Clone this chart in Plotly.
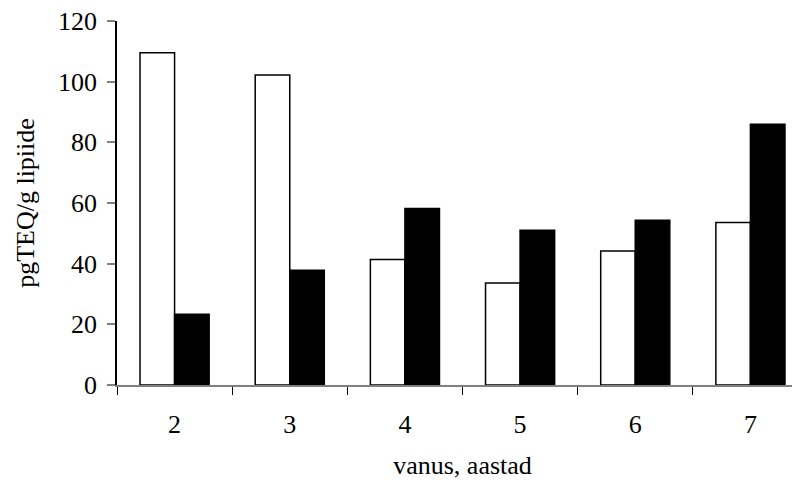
import plotly.graph_objects as go

categories = ["2", "3", "4", "5", "6", "7"]
series_white = [109.5, 102.2, 41.4, 33.6, 44.2, 53.6]
series_black = [23.3, 37.8, 58.2, 51.0, 54.3, 86.0]
y_ticks = [0, 20, 40, 60, 80, 100, 120]

FONT = "Liberation Serif, Times New Roman, serif"
FS = 26

fig = go.Figure()
fig.add_trace(go.Bar(x=categories, y=series_white, name="A",
                     marker=dict(color="white", line=dict(color="black", width=1.5))))
fig.add_trace(go.Bar(x=categories, y=series_black, name="B",
                     marker=dict(color="black", line=dict(color="black", width=1.5))))

fig.update_layout(
    width=800, height=491,
    margin=dict(l=109, r=0, t=13, b=114),
    plot_bgcolor="white", paper_bgcolor="white",
    barmode="group", bargap=0.4, bargroupgap=0,
    showlegend=False,
    font=dict(family=FONT, size=FS, color="black"),
)
fig.update_xaxes(
    type="category", automargin=False,
    showline=True, linecolor="#808080", linewidth=1.5,
    ticks="outside", tickson="boundaries", ticklen=8, tickcolor="black", tickwidth=1,
    ticklabelstandoff=15, ticklabeloverflow="allow",
    showgrid=False, zeroline=False,
    tickfont=dict(family=FONT, size=FS, color="black"),
    title=dict(text="vanus, aastad", font=dict(family=FONT, size=FS, color="black"), standoff=18),
)
fig.update_yaxes(
    range=[0, 120], tickvals=y_ticks, automargin=False,
    showline=True, linecolor="black", linewidth=1.5,
    ticks="outside", ticklen=8, tickcolor="#808080", tickwidth=1.5,
    ticklabelstandoff=5, ticklabeloverflow="allow",
    showgrid=False, zeroline=False,
    tickfont=dict(family=FONT, size=FS, color="black"),
    title=dict(text="pgTEQ/g lipiide", font=dict(family=FONT, size=FS, color="black"), standoff=16),
)

fig.write_html("out.html")
